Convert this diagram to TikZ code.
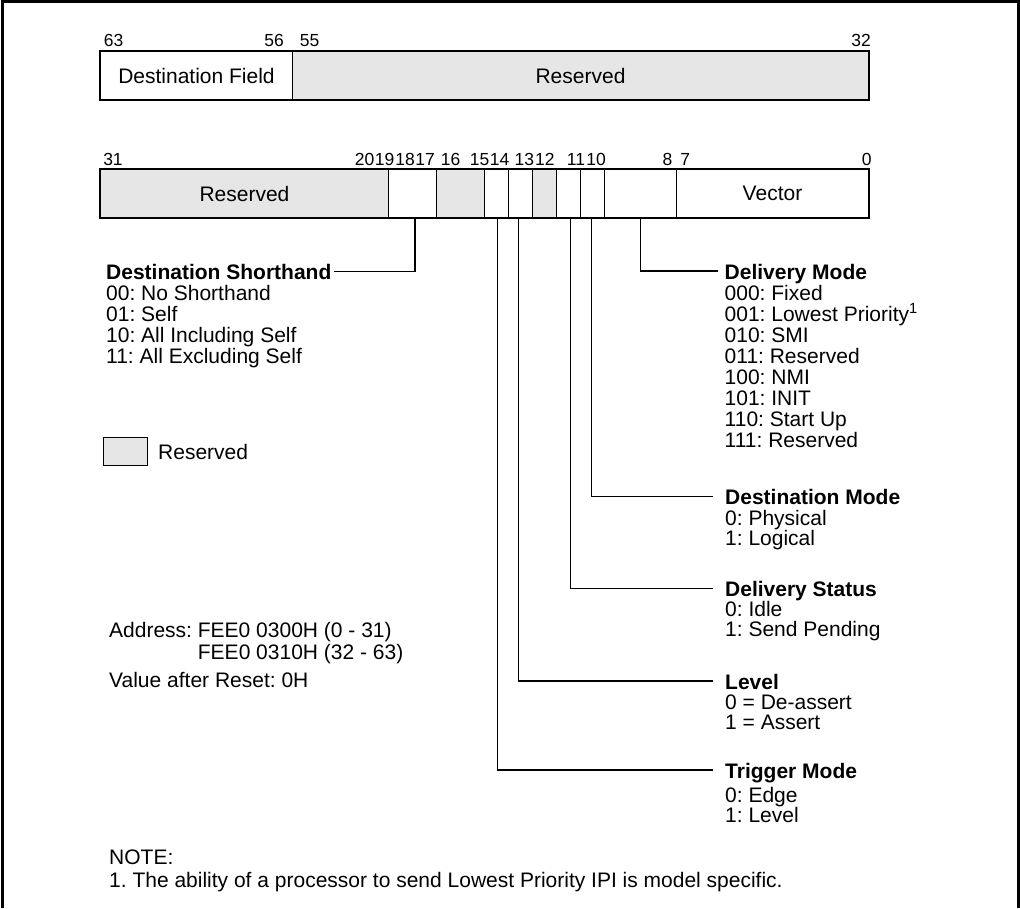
\documentclass[tikz,border=0pt]{standalone}
\usepackage{fontspec}
\setmainfont{Liberation Sans}
\definecolor{resgray}{HTML}{E6E6E6}
\frenchspacing
\begin{document}
\begin{tikzpicture}[x=1pt,y=-1pt,
  txt/.style={font=\fontsize{21}{21}\selectfont, inner sep=0pt, anchor=base west},
  hdr/.style={font=\fontsize{21}{21}\selectfont\bfseries, inner sep=0pt, anchor=west, text height=16pt, text depth=0pt},
  bitno/.style={font=\fontsize{17.5}{18}\selectfont, inner sep=0pt, anchor=base},
  field/.style={draw, line width=1pt, minimum height=48pt, inner sep=0pt, anchor=north west, font=\fontsize{21}{21}\selectfont},
  resfield/.style={field, fill=resgray},
  regframe/.style={draw, line width=2pt},
  conn/.style={draw, line width=1.1pt},
  frame/.style={draw, line width=3pt}
]
\useasboundingbox (0,0) rectangle (1020,908);
% outer frame (open at the bottom)
\draw[frame] (2,908) -- (2,1.5) -- (1018.5,1.5) -- (1018.5,908);

% ---------- upper register (63-32)
\node[field, minimum width=192pt] (f63) at (100,51) {Destination Field};
\node[resfield, minimum width=576pt] (f55) at (292,51) {Reserved};
\draw[regframe] (f63.north west) rectangle (f55.south east);
\node[bitno] (b63) at (113.6,46) {63};
\node[bitno] (b56) at (274,46) {56};
\node[bitno] (b55) at (309.5,46) {55};
\node[bitno] (b32) at (861,46) {32};

% ---------- lower register (31-0)
\node[resfield, minimum width=288pt] (f31) at (100,169) {Reserved};
\node[field, minimum width=48pt] (f19) at (388,169) {};
\node[resfield, minimum width=48pt] (f17) at (436,169) {};
\node[field, minimum width=24pt] (f15) at (484,169) {};
\node[field, minimum width=24pt] (f14) at (508,169) {};
\node[resfield, minimum width=24pt] (f13) at (532,169) {};
\node[field, minimum width=24pt] (f12) at (556,169) {};
\node[field, minimum width=24pt] (f11) at (580,169) {};
\node[field, minimum width=72pt] (f10) at (604,169) {};
\node[field, minimum width=192pt] (f7) at (676,169) {Vector};
\draw[regframe] (f31.north west) rectangle (f7.south east);
\foreach \n/\x in {31/113, 20/364.5, 19/384.5, 18/405, 17/425, 16/450.5, 15/479.7, 14/499.6, 13/524.4, 12/544.9, 11/576, 10/596, 8/667.5, 7/685.3, 0/866.7}
  \node[bitno] (l\n) at (\x,165) {\n};

% ---------- taps on the register
\coordinate (t19) at (415,217);

% Destination Shorthand
\node[hdr] (dsh) at (106,271.7) {Destination Shorthand};
\draw[conn] (t19) |- ([xshift=2pt]dsh.east);
\foreach \t [count=\i] in {00: No Shorthand, 01: Self, 10: All Including Self, 11: All Excluding Self}
  \node[txt] (ds\i) at (106,{279.7+21*\i}) {\t};

% Delivery Mode
\node[hdr] (dmh) at (724.5,271) {Delivery Mode};
\draw[conn] (f10.south) |- ([xshift=-6.5pt]dmh.west);
\foreach \t [count=\i] in {000: Fixed, 001: Lowest Priority\textsuperscript{1}, 010: SMI, 011: Reserved, 100: NMI, 101: INIT, 110: Start Up, 111: Reserved}
  \node[txt] (dm\i) at (724.5,{279+21*\i}) {\t};

% Destination Mode
\node[hdr] (dsm) at (725,496.7) {Destination Mode};
\draw[conn] ([xshift=-1pt]f11.south) |- ([xshift=-12pt]dsm.west);
\foreach \t [count=\i] in {0: Physical, 1: Logical}
  \node[txt] (dsm\i) at (725,{504.7+20.3*\i}) {\t};

% Delivery Status
\node[hdr] (dst) at (725,588.3) {Delivery Status};
\draw[conn] ([xshift=2pt]f12.south) |- ([xshift=-12pt]dst.west);
\foreach \t [count=\i] in {0: Idle, 1: Send Pending}
  \node[txt] (dst\i) at (725,{596.3+20.3*\i}) {\t};

% Level
\node[hdr] (lvh) at (725,681) {Level};
\draw[conn] ([xshift=-1.7pt]f14.south) |- ([xshift=-12pt]lvh.west);
\foreach \t [count=\i] in {0 = De-assert, 1 = Assert}
  \node[txt] (lv\i) at (725,{689+20.3*\i}) {\t};

% Trigger Mode
\node[hdr] (tmh) at (725,770) {Trigger Mode};
\draw[conn] ([xshift=1.3pt]f15.south) |- ([xshift=-12pt]tmh.west);
\node[txt] (tm1) at (725,802) {0: Edge};
\node[txt] (tm2) at (725,822) {1: Level};

% Legend
\node[draw, line width=1pt, fill=resgray, minimum width=44pt, minimum height=28pt, inner sep=0pt, anchor=north west] (leg) at (103,437) {};
\node[txt] (legt) at (158,459) {Reserved};

% Address
\node[txt] (ad1) at (109,637) {Address: FEE0 0300H (0 - 31)};
\node[txt] (ad2) at (109,659) {\phantom{Address: }FEE0 0310H (32 - 63)};
\node[txt] (rst) at (109,687) {Value after Reset: 0H};

% Note
\node[txt] (note) at (109,864) {NOTE:};
\node[txt] (note1) at (109,887) {1. The ability of a processor to send Lowest Priority IPI is model specific.};
\end{tikzpicture}
\end{document}
